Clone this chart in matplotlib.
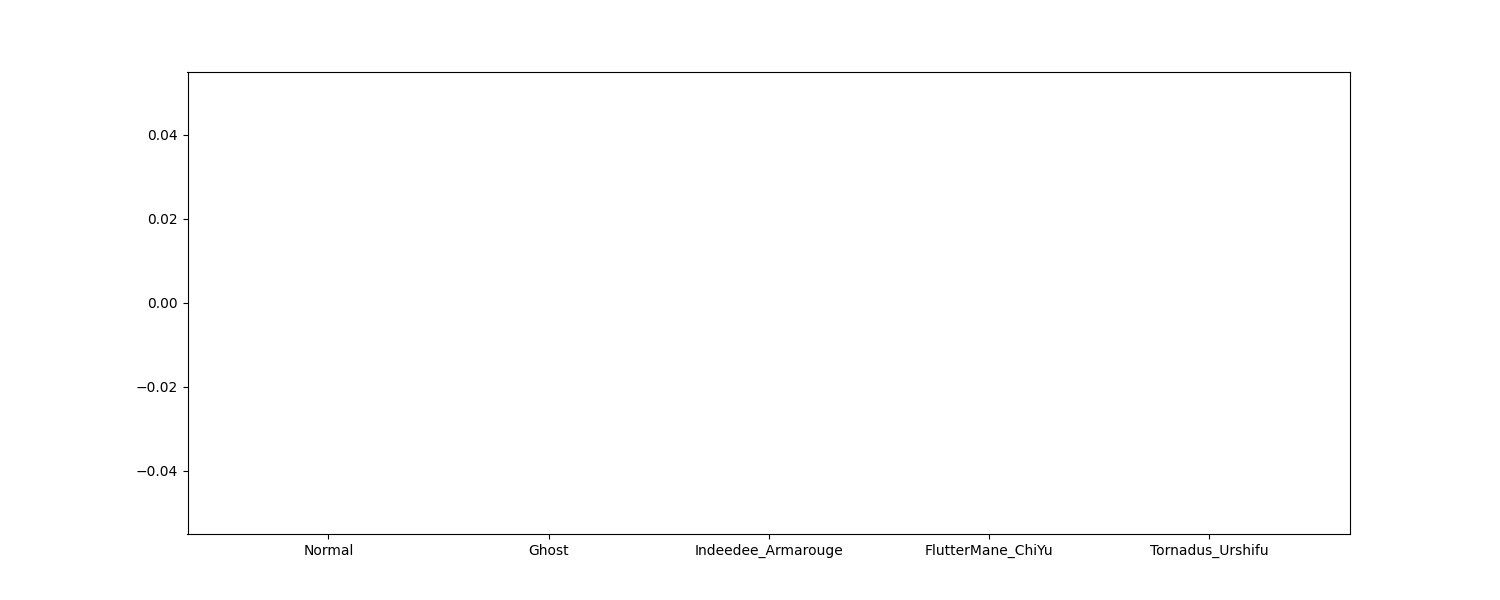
import matplotlib
matplotlib.use('Agg')
import matplotlib.pyplot as plt

teams = ['Normal', 'Ghost', 'Indeedee_Armarouge', 'FlutterMane_ChiYu', 'Tornadus_Urshifu']
win_rate = [0, 0, 0, 0, 0]

fig, ax = plt.subplots(figsize=(15, 6))
ax.bar(teams, win_rate)
plt.savefig('out.png', dpi=100)
